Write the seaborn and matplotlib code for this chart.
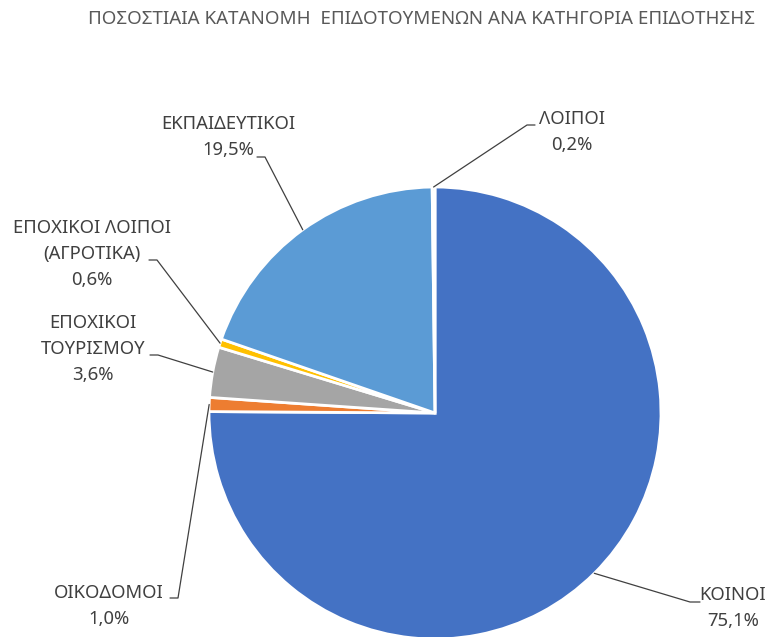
import numpy as np
import pandas as pd
import matplotlib
matplotlib.use("Agg")
import matplotlib.pyplot as plt
import seaborn as sns

# data, in the order the slices run clockwise from 12 o'clock
categories = ["ΚΟΙΝΟΙ", "ΟΙΚΟΔΟΜΟΙ", "ΕΠΟΧΙΚΟΙ\nΤΟΥΡΙΣΜΟΥ",
              "ΕΠΟΧΙΚΟΙ ΛΟΙΠΟΙ\n(ΑΓΡΟΤΙΚΑ)", "ΕΚΠΑΙΔΕΥΤΙΚΟΙ", "ΛΟΙΠΟΙ"]
shares = [75.1, 1.0, 3.6, 0.6, 19.5, 0.2]
colors = ["#4472C4", "#ED7D31", "#A5A5A5", "#FFC000", "#5B9BD5", "#70AD47"]
title = "ΠΟΣΟΣΤΙΑΙΑ ΚΑΤΑΝΟΜΗ  ΕΠΙΔΟΤΟΥΜΕΝΩΝ ΑΝΑ ΚΑΤΗΓΟΡΙΑ ΕΠΙΔΟΤΗΣΗΣ"

df = pd.DataFrame({"cat": categories, "share": shares, "color": colors})

sns.set_theme(style="white")
plt.rcParams["font.family"] = ["Noto Sans", "DejaVu Sans"]

W, H = 769, 637
fig = plt.figure(figsize=(W / 100, H / 100), dpi=100)
ax = fig.add_axes([0, 0, 1, 1])

# work in pixel coordinates, y measured from the top of the image
def py(y):
    return H - y

cx, cy, r = 435, 413, 226
wedges, _ = ax.pie(df["share"], colors=df["color"], startangle=90, counterclock=False,
                   center=(cx, py(cy)), radius=r,
                   wedgeprops=dict(edgecolor="white", linewidth=2))
ax.set_xlim(0, W)
ax.set_ylim(0, H)
ax.set_aspect("equal")
ax.axis("off")

# label layout: text block centre, elbow of leader line, tick end
label_xy = [(733, 608), (109, 606), (93, 349), (92, 254), (228, 137), (572, 132)]
elbow_xy = [(690, 602), (178, 598), (158, 355), (157, 260), (265, 157), (527, 125)]
tick_xy = [(700, 602), (170, 598), (150, 355), (149, 260), (257, 157), (535, 125)]

for w, cat, val, (tx, ty), (ex, ey), (kx, ky) in zip(wedges, df["cat"], df["share"],
                                                       label_xy, elbow_xy, tick_xy):
    ang = np.deg2rad((w.theta1 + w.theta2) / 2)
    ax_, ay_ = cx + r * np.cos(ang), py(cy) + r * np.sin(ang)
    ax.plot([ax_, ex, kx], [ay_, py(ey), py(ky)], color="#404040", lw=0.9)
    txt = cat + "\n" + f"{val:.1f}".replace(".", ",") + "%"
    ax.text(tx, py(ty), txt, ha="center", va="center", fontsize=13.3,
            color="#404040", linespacing=1.55)

ax.text(755, py(19), title, ha="right", va="center", fontsize=13.5, color="#595959")

fig.savefig("out.png", dpi=100)
